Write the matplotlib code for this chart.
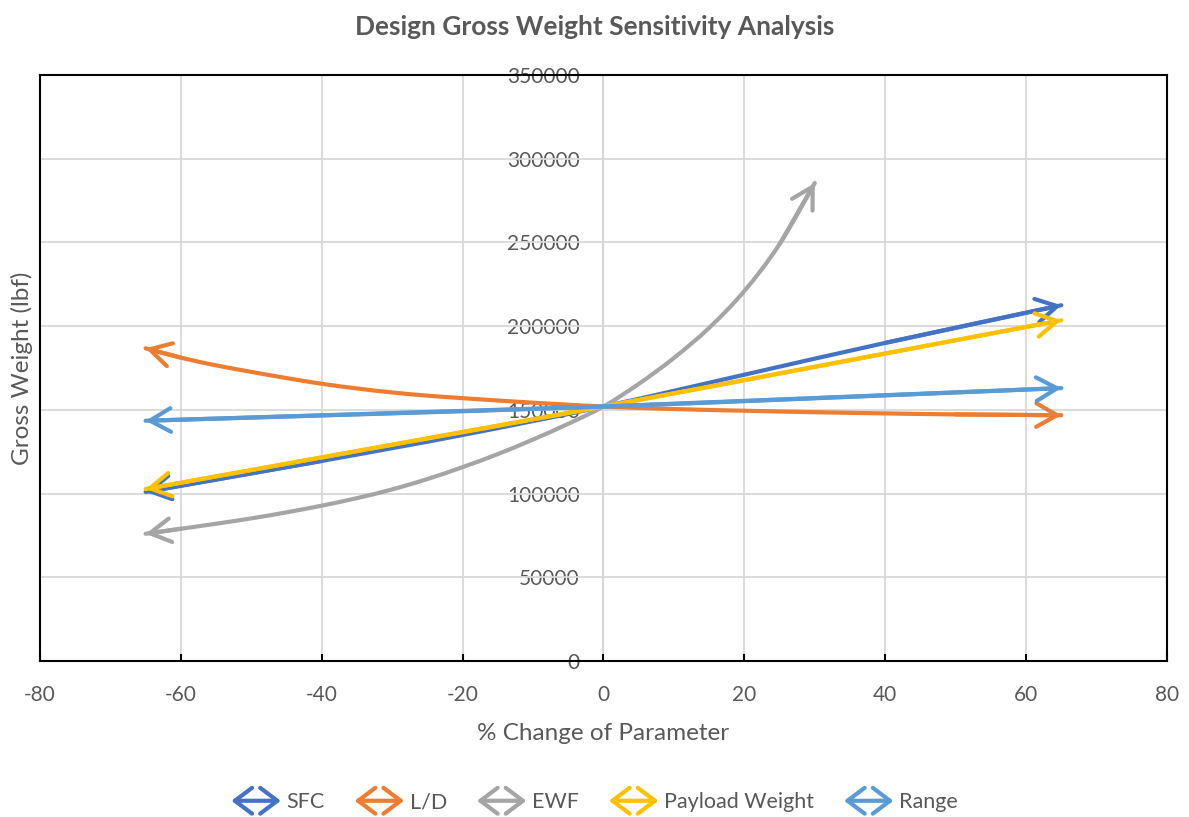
import matplotlib
matplotlib.use('Agg')
import matplotlib.pyplot as plt
from matplotlib.legend_handler import HandlerBase
from matplotlib.patches import FancyArrowPatch, PathPatch
from matplotlib.path import Path
from matplotlib.lines import Line2D

plt.rcParams['font.family'] = ['Lato', 'DejaVu Sans']
plt.rcParams['axes.unicode_minus'] = False

# % change of parameter and resulting gross weight (lbf)
sfc_x = [-65, -40, -20, 0, 20, 40, 65]
sfc_y = [101000, 119500, 135000, 152000, 171000, 190000, 212500]

ld_x = [-65, -60, -55, -50, -45, -40, -35, -30, -25, -20, -15, -10, -5, 0,
        10, 20, 30, 40, 50, 65]
ld_y = [186800, 181200, 176600, 172700, 169000, 165600, 162800, 160400,
        158500, 157000, 155600, 154300, 153100, 152000,
        150500, 149500, 148600, 147900, 147300, 146800]

ewf_x = [-65, -60, -55, -50, -45, -40, -35, -30, -25, -20, -15, -10, -5, 0,
         5, 10, 15, 20, 25, 30]
ewf_y = [76000, 79000, 82000, 85200, 88800, 92800, 97300, 102500, 108700,
         115800, 123600, 132300, 141700, 152000,
         165500, 181000, 199000, 221000, 249000, 285500]

payload_x = [-65, 0, 65]
payload_y = [102700, 152000, 203500]

range_x = [-65, 0, 65]
range_y = [143500, 152000, 163000]

series = [
    ('SFC', sfc_x, sfc_y, '#4472C4'),
    ('L/D', ld_x, ld_y, '#ED7D31'),
    ('EWF', ewf_x, ewf_y, '#A5A5A5'),
    ('Payload Weight', payload_x, payload_y, '#FFC000'),
    ('Range', range_x, range_y, '#5B9BD5'),
]

txt = '#595959'


def smooth_path(xs, ys):
    # smoothed line like the spreadsheet option: bezier segments through the points
    pts = list(zip(xs, ys))
    verts = [pts[0]]
    codes = [Path.MOVETO]
    for i in range(len(pts) - 1):
        p0 = pts[i - 1] if i > 0 else pts[i]
        p1 = pts[i]
        p2 = pts[i + 1]
        p3 = pts[i + 2] if i + 2 < len(pts) else p2
        c1 = (p1[0] + (p2[0] - p0[0]) / 6, p1[1] + (p2[1] - p0[1]) / 6)
        c2 = (p2[0] - (p3[0] - p1[0]) / 6, p2[1] - (p3[1] - p1[1]) / 6)
        verts += [c1, c2, p2]
        codes += [Path.CURVE4] * 3
    return Path(verts, codes)


class DoubleArrow(HandlerBase):
    def create_artists(self, legend, orig, xd, yd, w, h, fontsize, trans):
        y = -yd + h / 2
        a = FancyArrowPatch((-xd, y), (-xd + w, y),
                            arrowstyle='<->,head_length=0.8,head_width=0.6',
                            mutation_scale=fontsize, lw=3,
                            color=orig.get_color(), transform=trans,
                            shrinkA=0, shrinkB=0)
        return [a]


fig = plt.figure(figsize=(11.89, 8.17), dpi=100)
ax = fig.add_axes([0.0336, 0.1909, 0.9479, 0.7173])

handles = []
for name, xs, ys, c in series:
    ax.add_patch(PathPatch(smooth_path(xs, ys), fill=False, edgecolor=c, lw=3,
                           capstyle='round', joinstyle='round', zorder=3))
    ap = dict(arrowstyle='->,head_length=1.5,head_width=0.85', lw=3, color=c,
              shrinkA=0, shrinkB=0, capstyle='round', joinstyle='round')
    ax.annotate('', xy=(xs[0], ys[0]), xytext=(xs[1], ys[1]), arrowprops=ap, zorder=3)
    ax.annotate('', xy=(xs[-1], ys[-1]), xytext=(xs[-2], ys[-2]), arrowprops=ap, zorder=3)
    handles.append(Line2D([], [], color=c, label=name))

ax.set_xlim(-80, 80)
ax.set_ylim(0, 350000)
ax.set_xticks(range(-80, 81, 20))
ax.set_yticks(range(0, 350001, 50000))
ax.grid(True, color='#d9d9d9', lw=1.3, zorder=0)
ax.set_axisbelow(True)
for s in ax.spines.values():
    s.set_color('black')
    s.set_linewidth(1.5)
ax.tick_params(axis='x', direction='in', length=5, width=1.5, colors='black',
               labelcolor=txt, labelsize=15, pad=17)
ax.tick_params(axis='y', left=False, labelleft=False)

# value axis drawn at x = 0
sec = ax.secondary_yaxis(0.5)
sec.set_alignment('left')
sec.spines['left'].set_color('#bfbfbf')
sec.spines['left'].set_linewidth(1.5)
sec.set_yticks(range(0, 350001, 50000))
sec.tick_params(axis='y', length=0, labelcolor=txt, labelsize=15, pad=17)

ax.set_xlabel('% Change of Parameter', fontsize=17.5, color=txt, va='center')
ax.xaxis.set_label_coords(0.5, -0.1229)
ax.set_ylabel('Gross Weight (lbf)', fontsize=17.5, color=txt, va='center')
ax.yaxis.set_label_coords(-0.016, 0.5)
fig.suptitle('Design Gross Weight Sensitivity Analysis', fontsize=19,
             fontweight='bold', color=txt, y=0.967, va='center')

fig.legend(handles=handles, loc='center', bbox_to_anchor=(0.5, 0.018),
           ncol=5, frameon=False, fontsize=15.5, labelcolor=txt,
           handlelength=2.3, handletextpad=0.25, columnspacing=1.4,
           handler_map={Line2D: DoubleArrow()})

fig.savefig('out.png', dpi=100)
